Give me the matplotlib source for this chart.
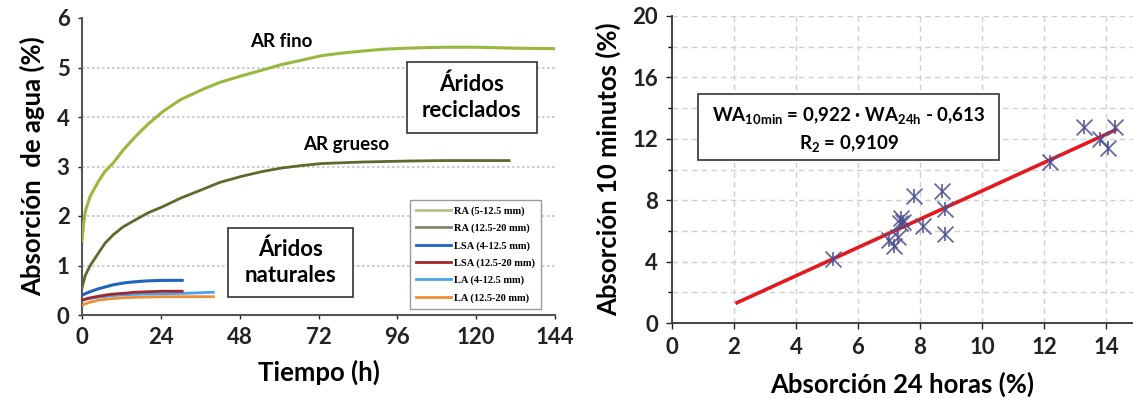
import matplotlib
matplotlib.use("Agg")
import matplotlib.pyplot as plt
from matplotlib.patches import Rectangle
from matplotlib.lines import Line2D

plt.rcParams['font.family'] = ['Lato', 'DejaVu Sans']
plt.rcParams['font.weight'] = 'bold'
plt.rcParams['mathtext.fontset'] = 'custom'
plt.rcParams['mathtext.rm'] = 'Lato:bold'
plt.rcParams['mathtext.it'] = 'Lato:bold'
plt.rcParams['mathtext.bf'] = 'Lato:bold'

# ---------------- Left chart data ----------------
time_ticks = [0, 24, 48, 72, 96, 120, 144]
abs_ticks = [0, 1, 2, 3, 4, 5, 6]

t_fino = [0, 0.5, 1.1, 2.5, 5, 7, 9.5, 12.5, 16.2, 20, 24.6, 30, 36.8, 42, 48.5, 55, 60.8, 67, 73, 79, 85, 92, 98.8, 110, 120, 132, 144]
v_fino = [1.5, 1.85, 2.12, 2.4, 2.7, 2.9, 3.07, 3.33, 3.6, 3.85, 4.11, 4.35, 4.56, 4.7, 4.83, 4.95, 5.06, 5.15, 5.24, 5.29, 5.33, 5.37, 5.39, 5.41, 5.41, 5.39, 5.38]

t_grueso = [0, 1, 2.5, 5, 7, 9.5, 12.5, 16.2, 20, 24.6, 30, 36.8, 42, 48.5, 55, 60.8, 67, 73, 85, 98.8, 110, 120, 130]
v_grueso = [0.55, 0.8, 1.0, 1.25, 1.45, 1.62, 1.78, 1.92, 2.06, 2.19, 2.36, 2.54, 2.68, 2.8, 2.9, 2.97, 3.02, 3.06, 3.09, 3.11, 3.12, 3.12, 3.12]

t_lsa_f = [0, 2, 5, 9.5, 13, 16, 20, 25, 30.5]
v_lsa_f = [0.4, 0.46, 0.53, 0.61, 0.65, 0.67, 0.69, 0.7, 0.7]

t_lsa_g = [0, 2, 5, 9, 13, 16, 20, 25, 30.5]
v_lsa_g = [0.3, 0.34, 0.38, 0.42, 0.44, 0.46, 0.47, 0.48, 0.48]

t_la_f = [0, 2, 5, 9, 13, 18, 25, 32, 40]
v_la_f = [0.3, 0.33, 0.36, 0.39, 0.41, 0.42, 0.43, 0.44, 0.46]

t_la_g = [0, 2, 5, 9, 13, 18, 25, 32, 40]
v_la_g = [0.2, 0.25, 0.3, 0.33, 0.35, 0.36, 0.37, 0.37, 0.37]

legend_labels = ["RA (5-12.5 mm)", "RA (12.5-20 mm)", "LSA (4-12.5 mm)",
                 "LSA (12.5-20 mm)", "LA (4-12.5 mm)", "LA (12.5-20 mm)"]

# ---------------- Right chart data ----------------
wa24 = [5.2, 7.0, 7.15, 7.3, 7.35, 7.4, 7.45, 7.8, 8.1, 8.7, 8.8, 8.8, 12.2, 13.3, 13.8, 14.05, 14.3]
wa10 = [4.2, 5.4, 5.0, 5.6, 6.5, 6.85, 6.6, 8.3, 6.3, 8.6, 7.4, 5.8, 10.5, 12.8, 12.0, 11.4, 12.8]
fit_slope = 0.922
fit_intercept = -0.613
fit_x = [2.1, 14.3]
x24_ticks = [0, 2, 4, 6, 8, 10, 12, 14]
y10_ticks = [0, 4, 8, 12, 16, 20]

fig = plt.figure(figsize=(11.33, 3.99), dpi=100)

# ================= Left axes =================
ax1 = fig.add_axes([82/1133, 1 - 315/399, (555-82)/1133, (315-18)/399])
c_fino = '#98b83e'
c_grueso = '#5a6b2c'
c_lsa_f = '#1f65c0'
c_lsa_g = '#a5262a'
c_la_f = '#4aa3e8'
c_la_g = '#ee8e36'
ax1.plot(t_fino, v_fino, color=c_fino, lw=2.2, zorder=4)
ax1.plot(t_grueso, v_grueso, color=c_grueso, lw=2.0, zorder=4)
ax1.plot(t_la_g, v_la_g, color=c_la_g, lw=2.0, zorder=4)
ax1.plot(t_la_f, v_la_f, color=c_la_f, lw=2.0, zorder=4)
ax1.plot(t_lsa_g, v_lsa_g, color=c_lsa_g, lw=2.0, zorder=5)
ax1.plot(t_lsa_f, v_lsa_f, color=c_lsa_f, lw=2.2, zorder=5)

ax1.set_xlim(0, 144)
ax1.set_ylim(0, 6)
ax1.set_xticks(time_ticks)
ax1.set_yticks(abs_ticks)
ax1.tick_params(labelsize=16, length=3, width=1, colors='#222222', pad=6)
for lbl in ax1.get_xticklabels() + ax1.get_yticklabels():
    lbl.set_fontweight('bold')
for y in abs_ticks[1:-1]:
    ax1.axhline(y, color='#c4c4c4', lw=1.2, ls=(0, (1.5, 1.5)), zorder=1)
for s in ['top', 'right']:
    ax1.spines[s].set_visible(False)
for s in ['left', 'bottom']:
    ax1.spines[s].set_color('#555555')
    ax1.spines[s].set_linewidth(1.5)

ax1.set_xlabel('Tiempo (h)', fontsize=18.5, fontweight='bold', labelpad=8)
ax1.set_ylabel('Absorción  de agua (%)', fontsize=18.5, fontweight='bold', labelpad=8)

ax1.text(60.8, 5.53, 'AR fino', fontsize=13.5, fontweight='bold', ha='center', va='center')
ax1.text(80.4, 3.45, 'AR grueso', fontsize=13.5, fontweight='bold', ha='center', va='center')

ax1.add_patch(Rectangle((98.8, 3.67), 39.6, 1.45, fill=True, facecolor='white',
                        edgecolor='#333333', lw=1.2, zorder=6))
ax1.text(118.6, 4.4, 'Áridos\nreciclados', fontsize=16, fontweight='bold',
         ha='center', va='center', linespacing=1.3, zorder=7)
ax1.add_patch(Rectangle((44.6, 0.37), 38.0, 1.38, fill=True, facecolor='white',
                        edgecolor='#333333', lw=1.2, zorder=6))
ax1.text(63.6, 1.06, 'Áridos\nnaturales', fontsize=16, fontweight='bold',
         ha='center', va='center', linespacing=1.3, zorder=7)

handles = [Line2D([], [], color=c, lw=2) for c in
           ['#b3c48a', '#7d8a6a', c_lsa_f, c_lsa_g, c_la_f, c_la_g]]
leg = ax1.legend(handles, legend_labels, loc='lower right', bbox_to_anchor=(0.97, 0.02),
                 prop={'family': 'Liberation Serif', 'weight': 'bold', 'size': 7.5},
                 fancybox=False, framealpha=1, edgecolor='#999999', labelspacing=0.75,
                 handlelength=3.4, handletextpad=0.2, borderpad=0.6, borderaxespad=0)
leg.set_zorder(8)

# ================= Right axes =================
ax2 = fig.add_axes([672/1133, 1 - 323/399, (1133-672)/1133, (323-16)/399])
ax2.set_xlim(0, 14.87)
ax2.set_ylim(0, 20)
ax2.set_xticks(x24_ticks)
ax2.set_yticks(y10_ticks)
ax2.set_yticks([2, 6, 10, 14, 18], minor=True)
ax2.tick_params(labelsize=16, length=4, width=1, colors='#222222', pad=6)
ax2.tick_params(which='minor', length=3, width=1)
for lbl in ax2.get_xticklabels() + ax2.get_yticklabels():
    lbl.set_fontweight('bold')
for x in x24_ticks[1:]:
    ax2.axvline(x, color='#d0d0d0', lw=1.0, ls=(0, (4, 3)), zorder=1)
for y in range(2, 21, 2):
    ax2.axhline(y, color='#d0d0d0', lw=1.0, ls=(0, (4, 3)), zorder=1)
for s in ['top', 'right']:
    ax2.spines[s].set_visible(False)
for s in ['left', 'bottom']:
    ax2.spines[s].set_color('#333333')
    ax2.spines[s].set_linewidth(1.3)

fit_y = [fit_slope * x + fit_intercept for x in fit_x]
ax2.plot(fit_x, fit_y, color='#e3191f', lw=2.6, zorder=3)
mc = '#4b4f8f'
ax2.scatter(wa24, wa10, marker='x', s=130, color=mc, linewidths=1.3, zorder=4, alpha=0.85)
ax2.scatter(wa24, wa10, marker='|', s=110, color=mc, linewidths=1.3, zorder=4, alpha=0.85)

ax2.add_patch(Rectangle((0.85, 10.62), 9.71, 4.33, fill=True, facecolor='white',
                        edgecolor='#333333', lw=1.2, zorder=6))
ax2.text(5.7, 13.5, r'WA$_{\mathrm{10min}}$ = 0,922 · WA$_{\mathrm{24h}}$ - 0,613',
         fontsize=13.5, fontweight='bold', ha='center', va='center', zorder=7)
ax2.text(5.7, 11.7, r'R$_{\mathrm{2}}$ = 0,9109', fontsize=13.5, fontweight='bold',
         ha='center', va='center', zorder=7)

ax2.set_xlabel('Absorción 24 horas (%)', fontsize=18.5, fontweight='bold', labelpad=10)
ax2.set_ylabel('Absorción 10 minutos (%)', fontsize=18.5, fontweight='bold', labelpad=8)

fig.savefig('out.png', dpi=100)
